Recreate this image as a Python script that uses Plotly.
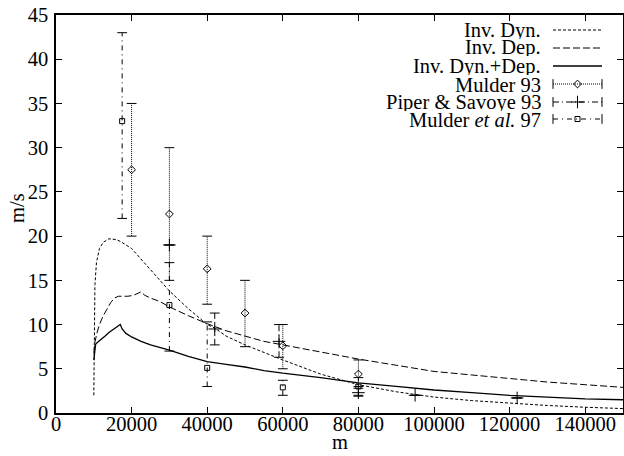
import plotly.graph_objects as go

# ---------------- data ----------------
dyn_x = [10000, 10100, 10300, 10700, 11500, 12500, 14000, 16000, 17000, 20000, 25000, 30000,
         35000, 40000, 42000, 45000, 50000, 60000, 70000, 80000, 90000, 100000, 110000,
         120000, 130000, 140000, 150000]
dyn_y = [2.0, 10.0, 14.5, 17.0, 18.6, 19.3, 19.7, 19.6, 19.4, 18.6, 16.2, 13.8,
         11.8, 10.0, 9.6, 8.7, 7.7, 6.0, 4.4, 3.2, 2.4, 1.8, 1.4,
         1.1, 0.85, 0.65, 0.5]

dep_x = [10000, 10300, 10800, 11500, 12500, 13500, 14500, 15500, 16500, 17500, 19000, 20500,
         21500, 22500, 23500, 25000, 27500, 30000, 35000, 40000, 45000, 50000, 55000, 60000,
         70000, 80000, 90000, 100000, 110000, 120000, 130000, 140000, 150000]
dep_y = [6.8, 8.0, 9.0, 10.0, 11.0, 11.8, 12.5, 13.0, 13.2, 13.2, 13.2, 13.3,
         13.5, 13.7, 13.3, 13.0, 12.6, 12.0, 11.0, 10.1, 9.3, 8.7, 8.1, 7.7,
         6.9, 6.1, 5.4, 4.7, 4.3, 3.9, 3.5, 3.2, 2.9]

sum_x = [10000, 10200, 10500, 11000, 12000, 13000, 14000, 15000, 16000, 17000, 17500, 18500,
         20000, 22500, 25000, 27500, 30000, 35000, 40000, 45000, 50000, 55000, 60000, 70000,
         80000, 90000, 100000, 110000, 120000, 130000, 140000, 150000]
sum_y = [6.0, 7.0, 7.8, 8.0, 8.3, 8.7, 9.1, 9.4, 9.7, 10.0, 9.5, 9.0,
         8.6, 8.1, 7.7, 7.4, 7.1, 6.4, 5.8, 5.5, 5.2, 4.8, 4.5, 4.0,
         3.4, 3.0, 2.6, 2.3, 2.0, 1.8, 1.6, 1.5]

m93_x = [20000, 30000, 40000, 50000, 60000, 80000]
m93_y = [27.5, 22.5, 16.3, 11.3, 7.6, 4.4]
m93_lo = [20.0, 15.0, 12.3, 7.5, 5.0, 3.0]
m93_hi = [35.0, 30.0, 20.0, 15.0, 10.0, 6.0]

ps_x = [30000, 42000, 59000, 80000, 95000, 122000]
ps_y = [19.0, 9.5, 8.1, 2.3, 2.0, 1.7]
ps_lo = [19.0, 7.7, 6.3, 1.9, 2.0, 1.7]
ps_hi = [19.0, 11.3, 10.0, 2.8, 2.0, 1.7]

m97_x = [17500, 30000, 40000, 60000, 80000]
m97_y = [33.0, 12.2, 5.1, 2.9, 3.0]
m97_lo = [22.0, 7.0, 3.0, 2.0, 2.0]
m97_hi = [43.0, 17.0, 10.3, 3.7, 4.0]

x_ticks = [0, 20000, 40000, 60000, 80000, 100000, 120000, 140000]
y_ticks = [0, 5, 10, 15, 20, 25, 30, 35, 40, 45]

labels = ["Inv. Dyn.", "Inv. Dep.", "Inv. Dyn.+Dep.", "Mulder 93",
          "Piper &amp; Savoye 93", "Mulder <i>et al.</i> 97"]

FONT = "Liberation Serif"
FS = 20.5
DYN_DASH = "3px,2px"
DEP_DASH = "7px,3px"
DOT_DASH = "1px,1px"
PS_DASH = "6px,3px,1px,3px"
M97_DASH = "5px,4px,1px,4px"

fig = go.Figure()

fig.add_trace(go.Scatter(x=dyn_x, y=dyn_y, mode="lines",
                         line=dict(color="black", width=1, dash=DYN_DASH), showlegend=False))
fig.add_trace(go.Scatter(x=dep_x, y=dep_y, mode="lines",
                         line=dict(color="black", width=1, dash=DEP_DASH), showlegend=False))
fig.add_trace(go.Scatter(x=sum_x, y=sum_y, mode="lines",
                         line=dict(color="black", width=1.3), showlegend=False))


def errbars(xs, ys, lo, hi, dash, symbol, msize):
    bx, by = [], []
    for x, l, h in zip(xs, lo, hi):
        bx += [x, x, None]
        by += [l, h, None]
    fig.add_trace(go.Scatter(x=bx, y=by, mode="lines",
                             line=dict(color="black", width=1, dash=dash), showlegend=False))
    fig.add_trace(go.Scatter(x=list(xs) + list(xs), y=list(lo) + list(hi), mode="markers",
                             marker=dict(symbol="line-ew", size=7,
                                         line=dict(color="black", width=1)),
                             showlegend=False))
    fig.add_trace(go.Scatter(x=xs, y=ys, mode="markers",
                             marker=dict(symbol=symbol, size=msize, color="black",
                                         line=dict(color="black", width=1)),
                             showlegend=False))


errbars(m93_x, m93_y, m93_lo, m93_hi, DOT_DASH, "diamond-open", 6)
errbars(ps_x, ps_y, ps_lo, ps_hi, PS_DASH, "cross-thin-open", 9)
errbars(m97_x, m97_y, m97_lo, m97_hi, M97_DASH, "square-open", 5)

# ---------------- custom gnuplot-like key ----------------
L, R, T, B = 56, 1, 15, 43
W, H = 624, 456
pw, ph = W - L - R, H - T - B
row_px = [30, 48, 66, 84, 102, 119]
ky = [(H - B - p) / ph for p in row_px]
kx0 = (553 - L) / pw
kx1 = (602 - L) / pw
kxm = (kx0 + kx1) / 2
ktext = (543 - L) / pw

styles = [
    (DYN_DASH, 1, None, 0),
    (DEP_DASH, 1, None, 0),
    ("solid", 1.3, None, 0),
    (DOT_DASH, 1, "diamond-open", 6),
    (PS_DASH, 1, "cross-thin-open", 9),
    (M97_DASH, 1, "square-open", 5),
]
for i, (lab, (dash, lw, sym, ms)) in enumerate(zip(labels, styles)):
    fig.add_trace(go.Scatter(x=[kx0, kx1], y=[ky[i], ky[i]], mode="lines",
                             xaxis="x2", yaxis="y2",
                             line=dict(color="black", width=lw, dash=dash), showlegend=False))
    if sym:
        fig.add_trace(go.Scatter(x=[kx0, kx1], y=[ky[i], ky[i]], mode="markers",
                                 xaxis="x2", yaxis="y2",
                                 marker=dict(symbol="line-ns", size=7,
                                             line=dict(color="black", width=1)),
                                 showlegend=False))
        fig.add_trace(go.Scatter(x=[kxm], y=[ky[i]], mode="markers",
                                 xaxis="x2", yaxis="y2",
                                 marker=dict(symbol=sym, size=ms, color="black",
                                             line=dict(color="black", width=1)),
                                 showlegend=False))
    fig.add_annotation(x=ktext, y=ky[i], xref="paper", yref="paper", text=lab,
                       showarrow=False, xanchor="right", yanchor="middle", height=17,
                       font=dict(family=FONT, size=FS, color="black"))

# axis titles
fig.add_annotation(x=(17 - L) / pw, y=(H - B - 208) / ph, xref="paper", yref="paper",
                   text="m/s", textangle=-90, showarrow=False,
                   xanchor="center", yanchor="middle",
                   font=dict(family=FONT, size=FS, color="black"))
fig.add_annotation(x=0.5, y=(H - B - 442) / ph, xref="paper", yref="paper",
                   text="m", showarrow=False, xanchor="center", yanchor="middle", height=18,
                   font=dict(family=FONT, size=FS, color="black"))

axis_common = dict(showgrid=False, zeroline=False, showline=True, linecolor="black",
                   linewidth=1.5, mirror="ticks", ticks="inside", ticklen=6,
                   tickwidth=1, tickcolor="black", automargin=False,
                   tickfont=dict(family=FONT, size=FS, color="black"))

fig.update_layout(
    width=W, height=H,
    margin=dict(l=L, r=R, t=T, b=B, autoexpand=False),
    paper_bgcolor="white", plot_bgcolor="white",
    showlegend=False,
    xaxis=dict(range=[0, 150000], tickvals=x_ticks, ticktext=[str(v) for v in x_ticks],
               ticklabelstandoff=-8, **axis_common),
    yaxis=dict(range=[0, 45], tickvals=y_ticks, ticktext=[str(v) for v in y_ticks],
               ticklabelstandoff=2, **axis_common),
    xaxis2=dict(range=[0, 1], overlaying="x", visible=False),
    yaxis2=dict(range=[0, 1], overlaying="y", visible=False),
)

fig.write_html("out.html", config={"displayModeBar": False},
               post_script="document.body.style.margin='0';document.body.style.padding='0';")
